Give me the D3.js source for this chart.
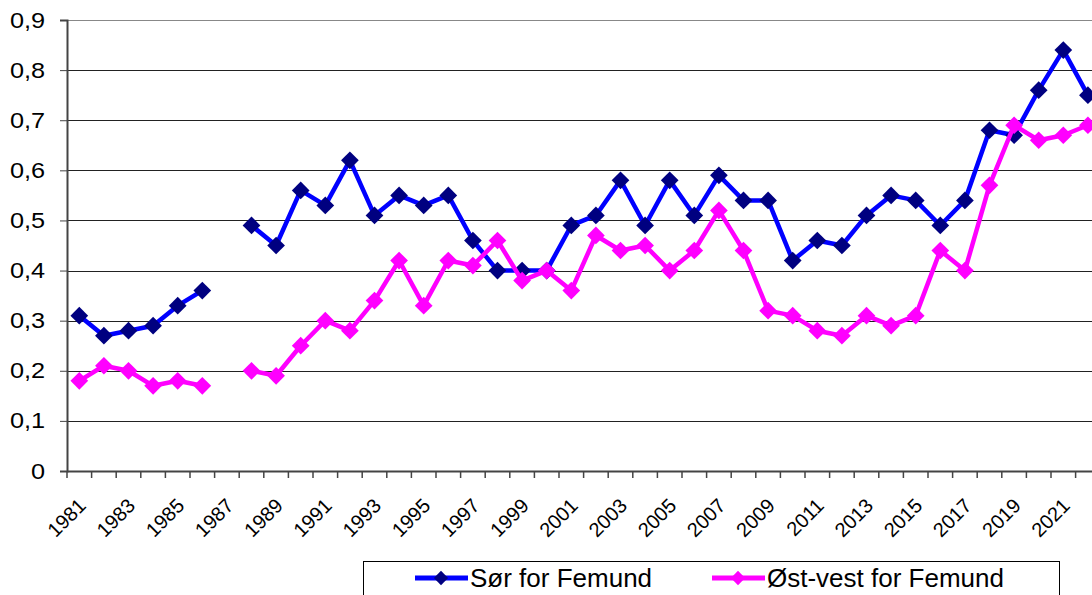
<!DOCTYPE html>
<html>
<head>
<meta charset="utf-8">
<script src="https://cdn.jsdelivr.net/npm/d3@7"></script>
<style>
  body { margin: 0; background: #fff; }
  svg { display: block; font-family: "Liberation Sans", Arial, sans-serif; }
</style>
</head>
<body>
<svg width="1092" height="595"></svg>
<script>
// år (kategorier)
var years = d3.range(1981, 2023);

// Sør for Femund
var sorValues = [0.31, 0.27, 0.28, 0.29, 0.33, 0.36, null, 0.49, 0.45, 0.56,
  0.53, 0.62, 0.51, 0.55, 0.53, 0.55, 0.46, 0.40, 0.40, 0.40,
  0.49, 0.51, 0.58, 0.49, 0.58, 0.51, 0.59, 0.54, 0.54, 0.42,
  0.46, 0.45, 0.51, 0.55, 0.54, 0.49, 0.54, 0.68, 0.67, 0.76,
  0.84, 0.75];

// Øst-vest for Femund
var ostValues = [0.18, 0.21, 0.20, 0.17, 0.18, 0.17, null, 0.20, 0.19, 0.25,
  0.30, 0.28, 0.34, 0.42, 0.33, 0.42, 0.41, 0.46, 0.38, 0.40,
  0.36, 0.47, 0.44, 0.45, 0.40, 0.44, 0.52, 0.44, 0.32, 0.31,
  0.28, 0.27, 0.31, 0.29, 0.31, 0.44, 0.40, 0.57, 0.69, 0.66,
  0.67, 0.69];

var yTicks = [0, 0.1, 0.2, 0.3, 0.4, 0.5, 0.6, 0.7, 0.8, 0.9];
var xLabels = years.filter(function (d) { return (d - 1981) % 2 === 0; });

var series = [
  {name: "Sør for Femund", values: sorValues, line: "#0000ff", marker: "#000080"},
  {name: "Øst-vest for Femund", values: ostValues, line: "#ff00ff", marker: "#ff00ff"}
];

var svg = d3.select("svg");
var plotLeft = 67, plotTop = 20, plotBottom = 471;
var band = 24.6;

var x = d3.scaleBand()
  .domain(years)
  .range([plotLeft, plotLeft + band * years.length]);

var y = d3.scaleLinear()
  .domain([0, 0.9])
  .range([plotBottom, plotTop]);

// rutenett
svg.append("g")
  .selectAll("line")
  .data(yTicks.filter(function (d) { return d > 0; }))
  .enter().append("line")
  .attr("x1", plotLeft)
  .attr("x2", 1092)
  .attr("y1", function (d) { return Math.round(y(d)) + 0.5; })
  .attr("y2", function (d) { return Math.round(y(d)) + 0.5; })
  .style("stroke", function (d) { return d === 0.9 ? "#888" : "#222"; })
  .style("stroke-width", 1);

// y-akse
var yAxis = svg.append("g")
  .attr("transform", "translate(" + plotLeft + ",0)")
  .call(d3.axisLeft(y).tickValues(yTicks).tickSize(7).tickPadding(12)
    .tickFormat(function (d) { return d === 0 ? "0" : d3.format(".1f")(d).replace(".", ","); }));
yAxis.select(".domain").attr("stroke", "#444").attr("stroke-width", 2);
yAxis.selectAll(".tick line").attr("stroke", "#444");
yAxis.selectAll("text")
  .attr("transform", "scale(1.15,1)")
  .style("font-size", "22px")
  .style("fill", "#000");

// x-akse
var xAxis = svg.append("g")
  .attr("transform", "translate(0," + plotBottom + ")")
  .call(d3.axisBottom(x).tickSize(0).tickFormat(""));
xAxis.select(".domain").attr("stroke", "#444").attr("stroke-width", 2);

// tick-streker mellom kategoriene
xAxis.append("g")
  .selectAll("line")
  .data(years)
  .enter().append("line")
  .attr("x1", function (d) { return x(d); })
  .attr("x2", function (d) { return x(d); })
  .attr("y1", 0)
  .attr("y2", 7)
  .attr("stroke", "#444")
  .attr("stroke-width", 1.5);

xAxis.append("g")
  .selectAll("text")
  .data(xLabels)
  .enter().append("text")
  .attr("transform", function (d) {
    return "translate(" + (x(d) + x.bandwidth() / 2 - 2) + ",26) rotate(-45)";
  })
  .attr("text-anchor", "end")
  .attr("dy", "0.7em")
  .style("font-size", "20px")
  .style("fill", "#000")
  .text(function (d) { return d; });

// linjer og markører
var diamond = d3.symbol().type(d3.symbolDiamond2).size(200);

series.forEach(function (s) {
  var line = d3.line()
    .defined(function (d) { return d != null; })
    .x(function (d, i) { return x(years[i]) + x.bandwidth() / 2; })
    .y(function (d) { return y(d); });

  svg.append("path")
    .datum(s.values)
    .attr("d", line)
    .attr("fill", "none")
    .attr("stroke", s.line)
    .attr("stroke-width", 4.5)
    .attr("stroke-linejoin", "round");

  svg.append("g")
    .selectAll("path")
    .data(s.values.map(function (v, i) { return {year: years[i], v: v}; })
      .filter(function (d) { return d.v != null; }))
    .enter().append("path")
    .attr("d", diamond)
    .attr("transform", function (d) {
      return "translate(" + (x(d.year) + x.bandwidth() / 2) + "," + y(d.v) + ")";
    })
    .attr("fill", s.marker);
});

// tegnforklaring
var legend = svg.append("g");
legend.append("rect")
  .attr("x", 363.5)
  .attr("y", 561.5)
  .attr("width", 696)
  .attr("height", 40)
  .attr("fill", "#fff")
  .attr("stroke", "#000")
  .attr("stroke-width", 1);

var legendX = [415, 712];
series.forEach(function (s, i) {
  var g = legend.append("g").attr("transform", "translate(" + legendX[i] + ",578)");
  g.append("line")
    .attr("x1", 0).attr("x2", 53)
    .attr("stroke", s.line)
    .attr("stroke-width", 5);
  g.append("path")
    .attr("d", d3.symbol().type(d3.symbolDiamond2).size(130))
    .attr("transform", "translate(26,0)")
    .attr("fill", s.marker);
  g.append("text")
    .attr("x", 55)
    .attr("y", 0)
    .attr("dy", "0.36em")
    .style("font-size", "26px")
    .text(s.name);
});
</script>
</body>
</html>
